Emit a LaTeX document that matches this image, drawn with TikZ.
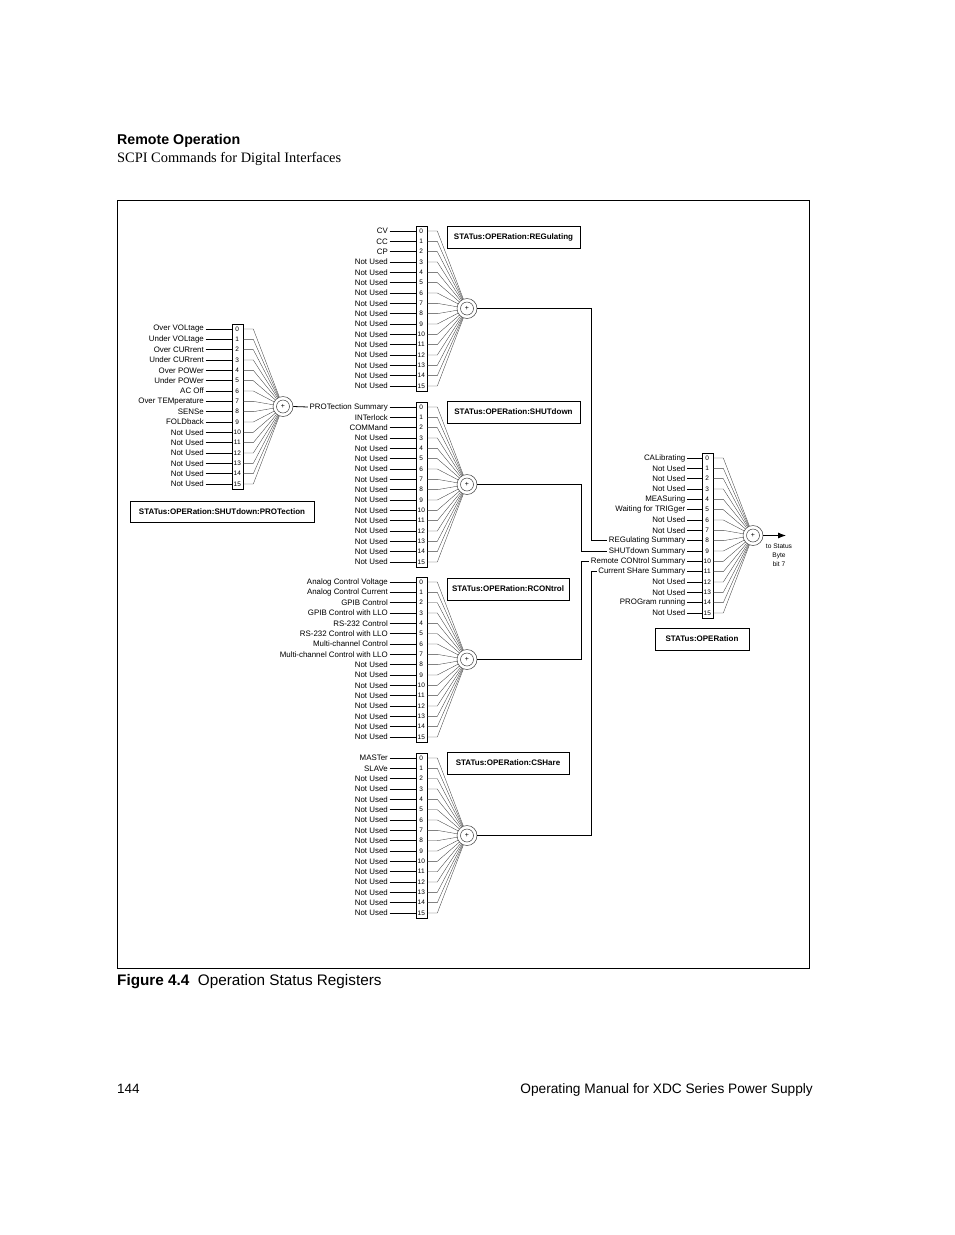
\documentclass[tikz,border=0pt]{standalone}
\usepackage{fontspec}
\setmainfont{Liberation Sans}
\newfontfamily\timesface{Liberation Serif}
\usepackage{tikz}
\usetikzlibrary{arrows.meta,positioning,calc}

% one status register: prefix, box left x, y of bit 0, label line length, labels
\newcommand{\statreg}[5]{%
  \node[regbox] (#1box) at (#2,#3-5.17) {};
  \node[sumnode] (#1sum) at (#2+51,#3+77.5) {+};
  \foreach \lab [count=\i from 0] in {#5} {
    \node[bitnum] (#1n\i) at (#2+5.25,#3+\i*10.333) {\i};
    \node[bitlabel] (#1l\i) at (#2-#4,#3+\i*10.333) {\lab};
    \draw[bitline] (#1l\i.east) -- (#1l\i.east -| #1box.west);
    \draw[sumline] (#1n\i -| #1box.east) -- ++(10,0) -- (#1sum);
  }
}

\begin{document}
\begin{tikzpicture}[x=1pt, y=-1pt,
regbox/.style={draw, line width=0.8pt, anchor=north west, inner sep=0pt, minimum width=10.5, minimum height=165.3},
bitnum/.style={font=\fontsize{6.5}{7}\selectfont, inner sep=0pt},
bitlabel/.style={anchor=east, inner sep=1.5pt, font=\fontsize{7.9}{9}\selectfont},
bitline/.style={line width=0.7pt},
sumline/.style={line width=0.35pt, black!75},
sumnode/.style={circle, draw=black!75, line width=0.5pt, minimum size=20, inner sep=0pt, font=\fontsize{7}{7}\selectfont,
  path picture={\draw[black!75, line width=0.5pt] (path picture bounding box.center) circle (6.5);}},
namebox/.style={draw, line width=0.8pt, minimum height=22, inner sep=0pt, font=\bfseries\fontsize{8}{9}\selectfont},
busline/.style={line width=0.8pt},
arr/.style={-{Latex[length=8pt,width=6pt]}, line width=0.8pt}
]
\useasboundingbox[fill=white] (0,0) rectangle (954,1235);

% page head and foot
\node[anchor=base west, inner sep=0pt, font=\bfseries\fontsize{14.2}{16}\selectfont] (chap) at (117,144) {Remote Operation};
\node[anchor=base west, inner sep=0pt, font=\timesface\fontsize{14.4}{16}\selectfont] (sect) at (117,162) {SCPI Commands for Digital Interfaces};
\node[anchor=base west, inner sep=0pt, font=\fontsize{15.3}{17}\selectfont] (caption) at (117,985) {\textbf{Figure 4.4}\hspace{0.55em}Operation Status Registers};
\node[anchor=base west, inner sep=0pt, font=\fontsize{13.5}{15}\selectfont] (pageno) at (117,1093) {144};
\node[anchor=base east, inner sep=0pt, font=\fontsize{13.7}{15}\selectfont] (manual) at (813,1093) {Operating Manual for XDC Series Power Supply};

\draw[line width=0.8pt] (117,200) rectangle (809,968);

% registers
\statreg{prot}{232}{329}{26.5}{Over VOLtage, Under VOLtage, Over CURrent, Under CURrent, Over POWer, Under POWer, AC Off, Over TEMperature, SENSe, FOLDback, Not Used, Not Used, Not Used, Not Used, Not Used, Not Used}
\statreg{reg}{416}{231}{26.5}{CV, CC, CP, Not Used, Not Used, Not Used, Not Used, Not Used, Not Used, Not Used, Not Used, Not Used, Not Used, Not Used, Not Used, Not Used}
\statreg{shut}{416}{407}{26.5}{PROTection Summary, INTerlock, COMMand, Not Used, Not Used, Not Used, Not Used, Not Used, Not Used, Not Used, Not Used, Not Used, Not Used, Not Used, Not Used, Not Used}
\statreg{rcon}{416}{582}{26.5}{Analog Control Voltage, Analog Control Current, GPIB Control, GPIB Control with LLO, RS-232 Control, RS-232 Control with LLO, Multi-channel Control, Multi-channel Control with LLO, Not Used, Not Used, Not Used, Not Used, Not Used, Not Used, Not Used, Not Used}
\statreg{csh}{416}{758}{26.5}{MASTer, SLAVe, Not Used, Not Used, Not Used, Not Used, Not Used, Not Used, Not Used, Not Used, Not Used, Not Used, Not Used, Not Used, Not Used, Not Used}
\statreg{op}{702}{458}{15}{CALibrating, Not Used, Not Used, Not Used, MEASuring, Waiting for TRIGger, Not Used, Not Used, REGulating Summary, SHUTdown Summary, Remote CONtrol Summary, Current SHare Summary, Not Used, Not Used, PROGram running, Not Used}

% register names
\node[namebox, minimum width=184, minimum height=21] (protname) at (222,511.5) {STATus:OPERation:SHUTdown:PROTection};
\node[namebox, minimum width=133] (regname) at (513.5,237) {STATus:OPERation:REGulating};
\node[namebox, minimum width=133] (shutname) at (513.5,412) {STATus:OPERation:SHUTdown};
\node[namebox, minimum width=122] (rconname) at (508,589) {STATus:OPERation:RCONtrol};
\node[namebox, minimum width=122] (cshname) at (508,763) {STATus:OPERation:CSHare};
\node[namebox, minimum width=94] (opname) at (702,639) {STATus:OPERation};

% summary lines
\coordinate (busA) at (591,0);
\coordinate (busB) at (581,0);
\draw[busline] (protsum.east) -- (shutl0.west);
\draw[busline] (regsum.east) -- (regsum.east -| busA) |- (opl8.west);
\draw[busline] (shutsum.east) -- (shutsum.east -| busB) |- (opl9.west);
\draw[busline] (rconsum.east) -- (rconsum.east -| busB) |- (opl10.west);
\draw[busline] (cshsum.east) -- (cshsum.east -| busA) |- (opl11.west);

% to status byte
\coordinate (stb) at (786,535.5);
\draw[arr] (opsum.east) -- (stb);
\node[align=center, inner sep=0pt, font=\fontsize{6.6}{9}\selectfont] (stbtext) at (779,555) {to Status\\Byte\\bit 7};
\end{tikzpicture}
\end{document}
